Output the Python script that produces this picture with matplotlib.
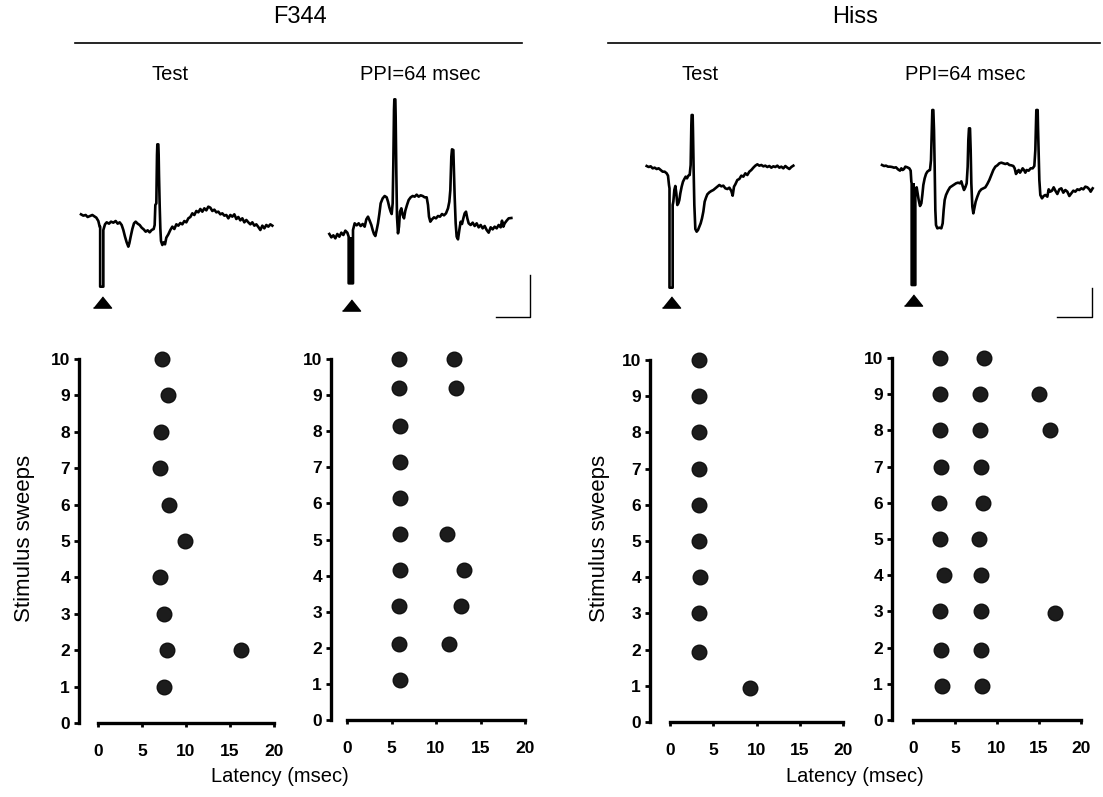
import matplotlib
matplotlib.use("Agg")
import matplotlib.pyplot as plt
from matplotlib.lines import Line2D

plt.rcParams['font.family'] = ['Liberation Sans', 'DejaVu Sans']

W, H = 1103, 797

# ---- group / condition labels ----
GROUPS = ['F344', 'Hiss']
CONDITIONS = ['Test', 'PPI=64 msec']

# ---- raster data: latency (msec) vs stimulus sweep ----
F344_TEST_X = [7.3, 7.9, 7.2, 7.0, 8.1, 9.9, 7.0, 7.5, 7.8, 16.2, 7.5]
F344_TEST_Y = [10, 9, 8, 7, 6, 5, 4, 3, 2, 2, 1]
F344_PPI_X = [5.8, 5.8, 6.0, 5.9, 5.9, 5.9, 5.9, 5.8, 5.8, 6.0,
              12.0, 12.2, 11.2, 13.1, 12.8, 11.5]
F344_PPI_Y = [10, 9.2, 8.15, 7.15, 6.15, 5.15, 4.15, 3.15, 2.1, 1.1,
              10, 9.2, 5.15, 4.15, 3.15, 2.1]
HISS_TEST_X = [3.4, 3.4, 3.4, 3.4, 3.4, 3.4, 3.45, 3.4, 3.4, 9.2]
HISS_TEST_Y = [10, 9, 8, 7, 6, 5, 4, 3, 1.93, 0.94]
HISS_PPI_X = [3.25, 3.25, 3.25, 3.33, 3.13, 3.25, 3.65, 3.25, 3.33, 3.45,
              8.5, 8.0, 8.0, 8.1, 8.3, 7.9, 8.1, 8.1, 8.1, 8.2,
              15.0, 16.3, 16.9]
HISS_PPI_Y = [10, 9, 8, 7, 6, 5, 4, 3, 1.92, 0.93,
              10, 9, 8, 7, 6, 5, 4, 3, 1.92, 0.93,
              9, 8, 2.95]

X_TICKS = [0, 5, 10, 15, 20]
Y_TICKS = list(range(0, 11))

# ---- example field-potential traces (time a.u., amplitude a.u., y grows downward) ----
TR1_T = [18, 25, 32, 38, 45, 52, 58, 64, 70, 74, 75.5, 75.5, 85, 85,
         90, 95, 102, 108, 115, 122, 128, 134, 140, 145, 150, 155, 160, 163, 167, 172, 177, 182, 188, 194,
         200, 206, 212, 218, 224, 230, 236, 239, 241, 244, 246, 247, 250, 251, 252, 254, 256, 258, 262, 266,
         270, 274, 280, 286, 292, 298, 304, 310, 316, 322, 328, 334, 340, 346, 352, 358, 364, 370, 376, 382,
         388, 394, 400, 406, 412, 418, 424, 430, 436, 442, 448, 454, 460, 466, 472, 478, 484, 490, 496, 502,
         508, 514, 520, 526, 532, 538, 544, 550, 556, 562, 568, 574, 580, 586, 592]
TR1_V = [238, 242, 240, 246, 243, 240, 244, 248, 258, 275, 275, 455, 455, 285,
         268, 262, 266, 260, 263, 258, 266, 262, 270, 285, 305, 322, 335, 325, 305, 282, 265, 260, 266, 270,
         278, 283, 290, 286, 292, 285, 282, 270, 210, 205, 60, 28, 28, 60, 120, 210, 280, 318, 330, 322,
         328, 308, 298, 285, 275, 282, 268, 272, 264, 268, 258, 262, 250, 246, 235, 240, 228, 232, 222, 230,
         220, 226, 215, 218, 228, 224, 232, 230, 238, 235, 242, 240, 250, 240, 245, 238, 252, 246, 256, 250,
         262, 255, 262, 268, 262, 272, 268, 276, 285, 272, 280, 270, 275, 268, 272]

TR2_T = [22, 28, 34, 40, 46, 52, 58, 64, 70, 76, 80, 80, 93, 93,
         98, 104, 110, 116, 122, 128, 133, 138, 143, 148, 152, 156, 160, 164, 168, 172, 176, 182, 188, 194,
         198, 202, 206, 209, 212, 214, 216, 217, 220, 221, 223, 225, 228, 231, 234, 238, 242, 246, 250, 255,
         260, 266, 272, 278, 284, 290, 296, 302, 308, 314, 318, 321, 325, 330, 336, 342, 348, 354, 360, 366,
         372, 378, 382, 385, 388, 390, 394, 396, 398, 401, 404, 408, 412, 416, 420, 424, 428, 432, 436, 440,
         446, 452, 458, 464, 470, 476, 482, 488, 494, 500, 506, 512, 518, 524, 530, 536, 540, 544, 548, 554,
         560, 568]
TR2_V = [432, 442, 436, 445, 432, 440, 428, 435, 422, 428, 440, 580, 580, 420,
         400, 406, 400, 408, 402, 410, 388, 380, 392, 405, 420, 432, 438, 420, 400, 372, 340, 325, 318, 322,
         335, 352, 365, 372, 340, 220, 60, 28, 28, 80, 250, 380, 430, 410, 365, 355, 375, 385, 362, 345,
         330, 322, 318, 320, 314, 320, 316, 318, 322, 322, 345, 380, 395, 388, 382, 385, 378, 380, 372, 376,
         370, 355, 335, 300, 200, 178, 180, 250, 320, 400, 440, 448, 420, 395, 402, 385, 370, 365, 385, 400,
         405, 398, 408, 400, 412, 405, 415, 408, 420, 428, 412, 418, 410, 415, 405, 412, 392, 410, 400, 392,
         385, 384]

TR3_T = [20, 26, 32, 38, 44, 50, 56, 62, 68, 74, 80, 84, 87, 88.5, 88.5, 98, 98,
         100, 103, 106, 109, 112, 115, 118, 121, 125, 129, 133, 137, 141, 145, 149, 152, 154, 155, 158, 159,
         161, 163, 166, 170, 174, 178, 182, 186, 190, 194, 198, 202, 208, 214, 220, 226, 232, 238, 244, 250,
         256, 262, 268, 274, 278, 282, 286, 292, 298, 304, 310, 316, 322, 328, 334, 340, 346, 352, 358, 364,
         370, 376, 382, 388, 394, 400, 406, 412, 418, 424, 430, 436, 442, 448, 454, 460]
TR3_V = [183, 186, 184, 190, 188, 192, 190, 195, 200, 200, 205, 212, 240, 250, 548, 548, 300,
         290, 255, 243, 265, 300, 295, 285, 265, 245, 230, 222, 215, 220, 212, 210, 180, 60, 30, 30, 80,
         200, 300, 372, 380, 375, 365, 355, 340, 320, 290, 278, 268, 262, 258, 255, 250, 245, 240, 244, 242,
         250, 252, 248, 258, 272, 245, 238, 225, 222, 212, 215, 205, 210, 200, 195, 188, 182, 178, 182, 180,
         184, 182, 186, 183, 188, 184, 186, 182, 188, 185, 190, 183, 188, 192, 186, 182]

TR4_T = [30, 36, 42, 48, 54, 60, 66, 72, 78, 84, 88, 92, 96, 100, 106, 112, 116, 118, 119, 119, 130, 130,
         131, 134, 137, 140, 144, 148, 151, 154, 158, 162, 166, 170, 174, 177, 179, 181, 184, 186, 188, 190,
         192, 196, 202, 208, 212, 215, 218, 222, 228, 234, 240, 246, 252, 258, 264, 268, 272, 276, 280, 284,
         287, 289, 291, 294, 296, 298, 301, 304, 307, 311, 316, 322, 328, 334, 340, 346, 352, 358, 364, 370,
         376, 382, 388, 394, 400, 406, 412, 418, 424, 428, 432, 436, 440, 444, 448, 452, 456, 460, 464, 470,
         476, 482, 487, 490, 492, 493, 497, 498, 500, 502, 505, 510, 515, 520, 526, 530, 535, 540, 545, 550,
         556, 562, 568, 574, 580, 586, 592, 598, 604, 610, 616, 622, 628, 634, 640, 646, 652, 656, 662]
TR4_V = [195, 198, 197, 200, 200, 201, 203, 202, 208, 212, 205, 210, 207, 200, 202, 205, 212, 245, 250, 555, 555, 270,
         265, 262, 280, 300, 318, 310, 285, 255, 235, 222, 215, 212, 210, 180, 100, 30, 30, 90, 200, 330,
         375, 385, 383, 385, 370, 330, 300, 285, 272, 262, 258, 254, 250, 248, 250, 244, 258, 270, 262, 250,
         200, 120, 85, 85, 150, 250, 320, 340, 325, 305, 290, 275, 268, 265, 262, 252, 240, 225, 210, 200,
         196, 190, 188, 190, 192, 190, 195, 196, 198, 205, 222, 215, 210, 218, 212, 205, 210, 218, 210, 212,
         205, 205, 198, 150, 60, 30, 30, 80, 160, 240, 285, 295, 288, 285, 290, 268, 275, 272, 262, 272,
         282, 268, 265, 278, 270, 275, 288, 280, 272, 275, 268, 270, 265, 268, 260, 262, 268, 275, 265]

# stimulus artifact extent (start, end, bottom) and whether it prints as a solid bar
ARTIFACTS = [(75.5, 85, 455), (80, 93, 580), (88.5, 98, 548), (119, 130, 555)]
ARTIFACT_TOP = [275, 440, 250, 250]
ARTIFACT_SOLID = [False, True, False, True]
STIM_MARK = [(80, 501), (86, 645), (93, 591), (124, 600)]

# calibration bars in the PPI trace frames: (x_left, x_right, y_top, y_bottom)
SCALE_BARS = {1: (522, 624, 555, 681), 3: (555, 660, 564, 651)}

# frames in figure pixels: (left, top, width, height)
TRACE_BOX = [(75, 135, 205, 160), (322, 90, 200, 205), (640, 105, 165, 190), (872, 100, 228, 220)]
TRACES = [(TR1_T, TR1_V), (TR2_T, TR2_V), (TR3_T, TR3_V), (TR4_T, TR4_V)]

# raster frames: spine x, x=0 px, x=20 px, y=0 px, y=10 px
RASTER_BOX = [(79, 98, 274, 723, 359), (331, 347, 525, 720, 359),
              (650, 670, 843, 722, 360), (892, 913, 1081, 720, 358)]
RASTERS = [(F344_TEST_X, F344_TEST_Y), (F344_PPI_X, F344_PPI_Y),
           (HISS_TEST_X, HISS_TEST_Y), (HISS_PPI_X, HISS_PPI_Y)]


def px_axes(fig, left, top, width, height):
    return fig.add_axes([left / W, 1 - (top + height) / H, width / W, height / H])


fig = plt.figure(figsize=(W / 100, H / 100), dpi=100)

# traces
tri = [(-1, -0.62), (1, -0.62), (0, 0.62)]
for i, ((t, v), box) in enumerate(zip(TRACES, TRACE_BOX)):
    ax = px_axes(fig, *box)
    ax.plot(t, v, color='black', lw=1.9, solid_joinstyle='round')
    a0, a1, bottom = ARTIFACTS[i]
    if ARTIFACT_SOLID[i]:
        ax.fill_betweenx([ARTIFACT_TOP[i], bottom], a0, a1, color='black', lw=0)
    sx, sy = STIM_MARK[i]
    ax.plot([sx], [sy], marker=tri, ms=13, color='black', clip_on=False)
    if i in SCALE_BARS:
        x0, x1, y0, y1 = SCALE_BARS[i]
        ax.plot([x0, x1, x1], [y1, y1, y0], color='black', lw=1.0, clip_on=False)
    ax.set_xlim(0, box[2] * 3)
    ax.set_ylim(box[3] * 3, 0)
    ax.axis('off')

# rasters
for i, ((xs, ys), (sp, x0, x20, y0, y10)) in enumerate(zip(RASTERS, RASTER_BOX)):
    sx = (x20 - x0) / 20.0
    sy = (y0 - y10) / 10.0
    lo = -(x0 - sp) / sx
    hi = 20.4
    top = 10.4
    ax = px_axes(fig, sp, y0 - top * sy, (hi - lo) * sx, top * sy)
    ax.plot(xs, ys, 'o', ms=10.5, color='#1c1c1c', mec='#111111', clip_on=False)
    ax.set_xlim(lo, hi)
    ax.set_ylim(0, top)
    ax.spines['top'].set_visible(False)
    ax.spines['right'].set_visible(False)
    ax.spines['bottom'].set_bounds(0, 20)
    ax.spines['left'].set_bounds(0, 10)
    for s in ('bottom', 'left'):
        ax.spines[s].set_linewidth(2.4)
    ax.set_xticks(X_TICKS)
    ax.set_yticks(Y_TICKS)
    ax.tick_params(axis='x', direction='out', length=3, width=2, pad=12, labelsize=12.5)
    ax.tick_params(axis='y', direction='out', length=3.5, width=2, pad=3, labelsize=12.5)
    for lab in ax.get_xticklabels() + ax.get_yticklabels():
        lab.set_fontweight('bold')
    ax.patch.set_alpha(0)

# labels
for x in (25, 600):
    fig.text(x / W, 1 - 538 / H, 'Stimulus sweeps', rotation=90, ha='center', va='center', fontsize=16)
for x in (280, 855):
    fig.text(x / W, 1 - 777 / H, 'Latency (msec)', ha='center', va='center', fontsize=14.5)

# group titles with rules
for name, cx, (l0, l1) in zip(GROUPS, (300, 855), ((75, 522), (608, 1100))):
    fig.text(cx / W, 1 - 17 / H, name, ha='center', va='center', fontsize=17)
    fig.add_artist(Line2D([l0 / W, l1 / W], [1 - 43 / H, 1 - 43 / H], color='black', lw=1.2))

for cond, cx in zip(CONDITIONS * 2, (170, 420, 700, 965)):
    fig.text(cx / W, 1 - 75 / H, cond, ha='center', va='center', fontsize=14.5)

fig.savefig('out.png', dpi=100)
